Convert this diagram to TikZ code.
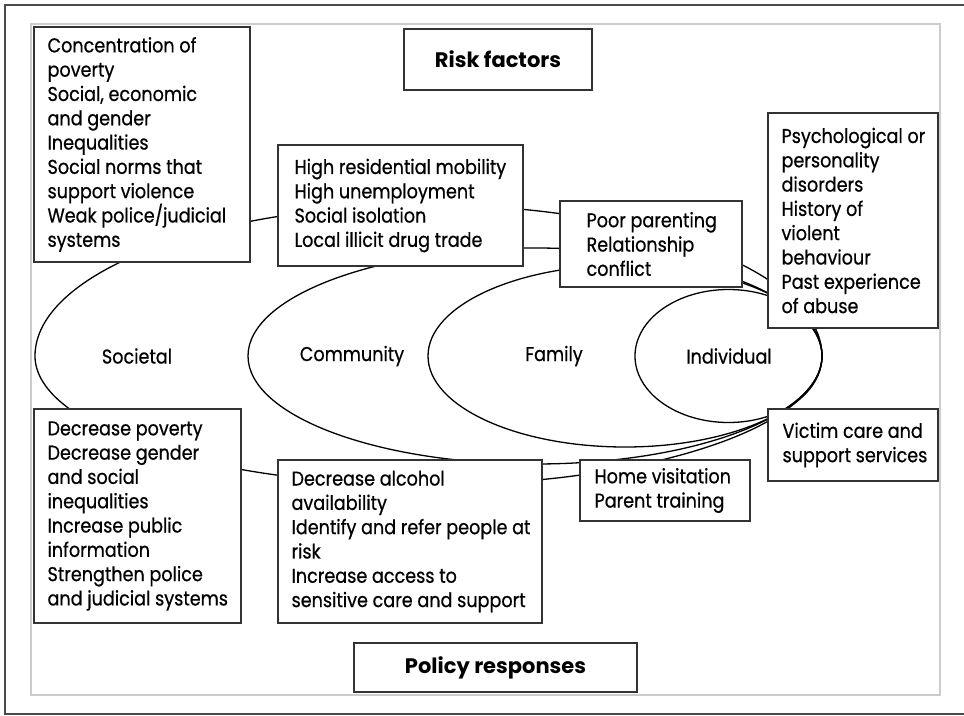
\documentclass[tikz,border=0pt]{standalone}
\usepackage{fontspec}
\setmainfont{Poppins}[FakeStretch=0.88,FakeBold=0.6]
\newfontfamily\hfont{Poppins}
\newcommand\dtxt{\fontsize{20}{24.3}\selectfont}
\newcommand\htxt{\hfont\fontsize{21}{25}\selectfont\bfseries}
\definecolor{boxc}{HTML}{333333}
\definecolor{framec}{HTML}{4A4A4A}
\definecolor{innerc}{HTML}{CCCCCC}
\begin{document}
\begin{tikzpicture}[x=1pt,y=-1pt,
  frame/.style={draw=boxc,line width=1.3pt,fill=white,inner sep=0pt},
  body/.style={font=\dtxt,align=left,inner sep=0pt,anchor=west},
  head/.style={font=\htxt},
  ring/.style={draw=black,line width=1.3pt},
  lvl/.style={font=\dtxt,inner sep=0pt}]
\useasboundingbox (0,0) rectangle (964,715);
\draw[draw=framec,line width=1.5pt] (964,5) -- (5,5) -- (5,714) -- (964,714);
\draw[draw=innerc,line width=2pt] (31,24) rectangle (940,695);
% nested levels
\draw[ring] (822,356) arc[start angle=0,end angle=-180,x radius=393.5,y radius=151]
                      arc[start angle=180,end angle=0,x radius=393.5,y radius=129];
\draw[ring] (535,356) ellipse[x radius=287,y radius=108];
\draw[ring] (625,356) ellipse[x radius=197,y radius=91];
\draw[ring] (728.5,356) ellipse[x radius=93.5,y radius=66.5];
\node[lvl] (soc) at (137,356) {Societal};
\node[lvl] (com) at (352,356) {Community};
\node[lvl] (fam) at (554,356) {Family};
\node[lvl] (ind) at (729,356) {Individual};
% headings
\node[frame,head,minimum width=188pt,minimum height=61pt] (risk) at (498,59.5) {Risk factors};
\node[frame,head,minimum width=283pt,minimum height=49pt] (policy) at (495.5,667.5) {Policy responses};
% risk factor boxes
\node[frame,minimum width=216pt,minimum height=235pt] (conc) at (142,144.5) {};
\node[body] (concT) at ([xshift=14pt]conc.west) {Concentration of\\poverty\\Social, economic\\and gender\\Inequalities\\Social norms that\\support violence\\Weak police/judicial\\systems};
\node[frame,minimum width=245pt,minimum height=121pt] (high) at (400.5,205.5) {};
\node[body] (highT) at ([xshift=17pt]high.west) {High residential mobility\\High unemployment\\Social isolation\\Local illicit drug trade};
\node[frame,minimum width=182pt,minimum height=86pt] (poor) at (651,244) {};
\node[body] (poorT) at ([xshift=27pt]poor.west) {Poor parenting\\Relationship\\conflict};
\node[frame,minimum width=170pt,minimum height=215pt] (psych) at (853,220.5) {};
\node[body] (psychT) at ([xshift=14pt]psych.west) {Psychological or\\personality\\disorders\\History of\\violent\\behaviour\\Past experience\\of abuse};
% policy response boxes
\node[frame,minimum width=207pt,minimum height=214pt] (dpov) at (137.5,516) {};
\node[body] (dpovT) at ([xshift=14pt]dpov.west) {Decrease poverty\\Decrease gender\\and social\\inequalities\\Increase public\\information\\Strengthen police\\and judicial systems};
\node[frame,minimum width=264pt,minimum height=163pt] (dalc) at (410,541.5) {};
\node[body] (dalcT) at ([xshift=14pt]dalc.west) {Decrease alcohol\\availability\\Identify and refer people at\\risk\\Increase access to\\sensitive care and support};
\node[frame,minimum width=170pt,minimum height=61pt] (home) at (665,490.5) {};
\node[body] (homeT) at ([xshift=15pt]home.west) {Home visitation\\Parent training};
\node[frame,minimum width=170pt,minimum height=72pt] (vict) at (853,445) {};
\node[body] (victT) at ([xshift=15pt]vict.west) {Victim care and\\support services};
\end{tikzpicture}
\end{document}
